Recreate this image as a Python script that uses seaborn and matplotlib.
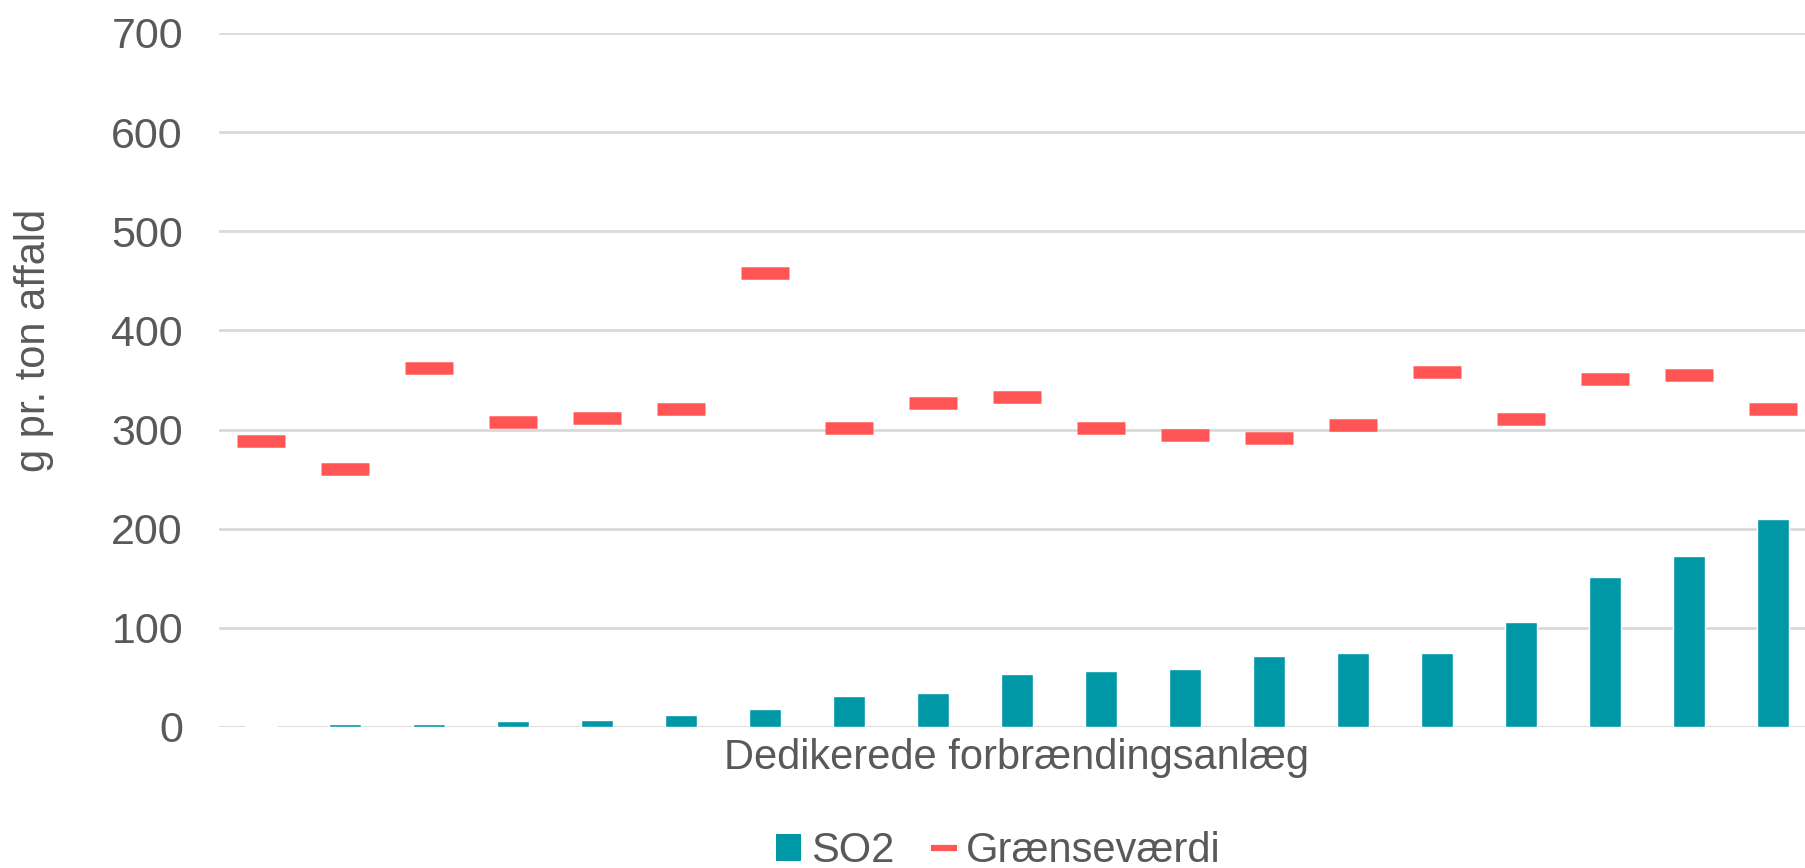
#!/usr/bin/env python
# -*- coding: utf-8 -*-

"""
Plots SO2 emissions per dedicated incineration plant as bars, with the
plant's limit value (graensevaerdi) drawn as a short red dash over each bar.
"""
import sys
import numpy as np
import matplotlib
matplotlib.use("Agg")
import matplotlib.pyplot as plt
from matplotlib.patches import Patch
from matplotlib.lines import Line2D
import seaborn as sns

# Data (g pr. ton affald) #

plants = [str(i) for i in range(1, 20)]
so2 = [1.5, 3.5, 3.5, 6.5, 7.5, 12, 18, 31, 34, 53, 56, 59, 72, 75, 75, 106, 151, 172, 210]
limit = [288, 260, 362, 308, 312, 321, 458, 302, 327, 333, 302, 295, 292, 305,
         358, 311, 351, 355, 321]
y_ticks = [0, 100, 200, 300, 400, 500, 600, 700]

BAR_COLOR = "#0097A7"
LIMIT_COLOR = "#FF5555"
TEXT_COLOR = "#595959"
GRID_COLOR = "#D9D9D9"
FONT_SIZE = 30


def plot_so2(out_name="out.png"):
    sns.set_style("white")
    plt.rcParams["font.family"] = ["Liberation Sans", "DejaVu Sans"]

    fig = plt.figure(figsize=(18.06, 8.68), dpi=100)
    # axes run slightly past the right edge, as in the original crop
    ax = fig.add_axes([219 / 1806, 141 / 868, 1596 / 1806, 694 / 868])

    sns.barplot(x=plants, y=so2, color=BAR_COLOR, width=0.37, saturation=1,
                ax=ax, zorder=3)

    # limit value dashes, one per plant
    idx = np.arange(len(plants))
    ax.hlines(limit, idx - 0.29, idx + 0.29, colors=LIMIT_COLOR, linewidth=9,
              capstyle="butt", zorder=4)

    ax.set_ylim(0, 700)
    ax.set_yticks(y_ticks)
    ax.set_xlim(-0.5, len(plants) - 0.5)
    ax.set_xticks([])
    ax.grid(axis="y", color=GRID_COLOR, linewidth=2.0, zorder=0)
    ax.set_axisbelow(True)
    sns.despine(ax=ax, left=True, bottom=True)
    ax.tick_params(axis="y", length=0, pad=26, labelsize=31,
                   labelcolor=TEXT_COLOR)

    ax.set_xlabel("Dedikerede forbrændingsanlæg", fontsize=FONT_SIZE,
                  color=TEXT_COLOR, labelpad=8)
    ax.set_ylabel("")
    fig.text(34 / 1806, 1 - 340 / 868, "g pr. ton affald", rotation=90,
             ha="center", va="center", fontsize=FONT_SIZE, color=TEXT_COLOR)

    handles = [Patch(facecolor=BAR_COLOR, edgecolor="none", label="SO2"),
               Line2D([0], [0], color=LIMIT_COLOR, linewidth=4.5,
                      solid_capstyle="butt", label="Grænseværdi")]
    fig.legend(handles=handles, loc="center", ncol=2, frameon=False,
               bbox_to_anchor=(998 / 1806, 1 - 851 / 868),
               fontsize=FONT_SIZE, labelcolor=TEXT_COLOR,
               handlelength=0.62, handleheight=0.62, handletextpad=0.22,
               columnspacing=0.88, borderpad=0)

    fig.savefig(out_name, dpi=100)
    print("Wrote file: {}".format(out_name))


def main():
    plot_so2()
    return 0


if __name__ == '__main__':
    sys.exit(main())
